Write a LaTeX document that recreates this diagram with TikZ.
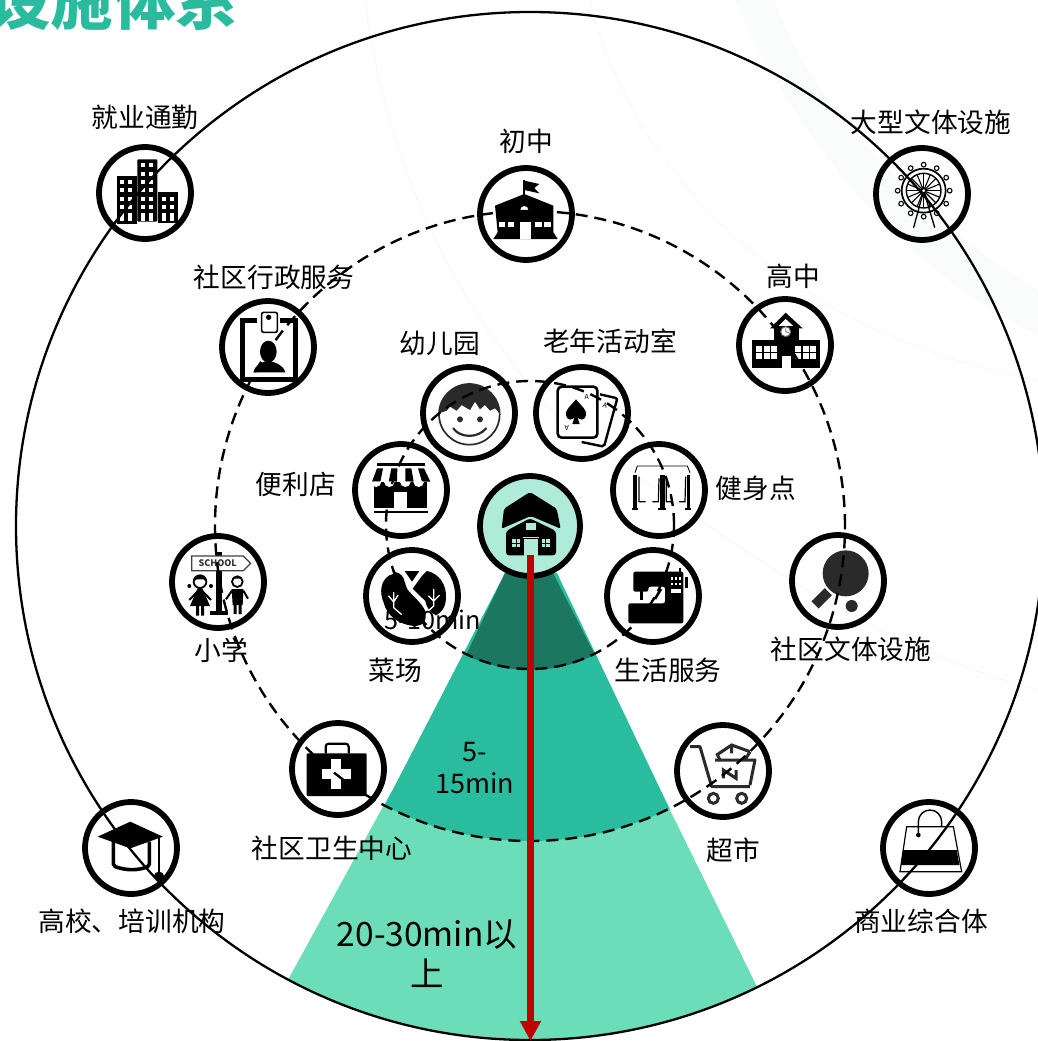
\documentclass[tikz,border=0pt]{standalone}
\usepackage{fontspec}
\setmainfont{Noto Sans CJK SC}
\usetikzlibrary{arrows.meta}
\definecolor{titleteal}{HTML}{2ABB9F}
\definecolor{seclight}{HTML}{6BDDB8}
\definecolor{secmid}{HTML}{2ABC9F}
\definecolor{secdark}{HTML}{1B775F}
\definecolor{homefill}{HTML}{AEEBD9}
\definecolor{arrowred}{HTML}{C00000}
\definecolor{paleband}{HTML}{F9FCFB}
\definecolor{paleline}{HTML}{F9FAFA}
\definecolor{icondark}{HTML}{2A2A2A}
\tikzset{
  ring/.style={circle,draw=black,line width=5.8pt,minimum size=92pt,inner sep=0pt},
  dashring/.style={draw=black,line width=2.4pt,dash pattern=on 12pt off 7pt},
  lab/.style={font=\fontsize{26.7}{32}\selectfont,text=black,inner sep=0pt},
  zoomat/.style 2 args={xshift=#1pt,yshift=-#2pt,x=0.33333pt,y=-0.33333pt},
}
\begin{document}
\begin{tikzpicture}[x=1pt,y=-1pt]
\useasboundingbox (0,0) rectangle (1038,1041);
\clip (0,0) rectangle (1038,1041);
% faint background
\fill[paleband] (735,0) .. controls (790,130) and (900,270) .. (1038,335) -- (1038,290) .. controls (950,240) and (810,110) .. (775,0) -- cycle;
\draw[paleline,line width=2pt] (365,0) .. controls (385,150) and (440,290) .. (560,420) .. controls (700,520) and (850,640) .. (1038,690);
\draw[paleline,line width=1.5pt] (590,0) .. controls (620,140) and (760,330) .. (1038,380);
% title
\node[anchor=base west,inner sep=0pt,text=titleteal,font=\bfseries\fontsize{62.5}{70}\selectfont] (title) at (-12,24.5) {设施体系};
% sectors
\begin{scope}
 \clip (530,526) circle[radius=514pt];
 \fill[seclight] (410,760) -- (385,803) -- (278,998) -- (530,1100) -- (767,1007) -- (670,810) -- (650,770) -- cycle;
\end{scope}
\begin{scope}
 \clip (530,526) circle[radius=315pt];
 \fill[secmid] (505,573) -- (359,855) -- (530,900) -- (694,860) -- (557,573) -- cycle;
\end{scope}
\begin{scope}
 \clip (530,526) circle[radius=144pt];
 \fill[secdark] (505,573) -- (440,710) -- (530,730) -- (618,700) -- (553,573) -- cycle;
\end{scope}
% circles
\node[ring] (job) at (145,193) {};
\node[ring] (culture) at (922,194) {};
\node[ring] (junior) at (526,214) {};
\node[ring] (admin) at (268,347) {};
\node[ring] (senior) at (785,345) {};
\node[ring] (kinder) at (469,413) {};
\node[ring] (elder) at (582,413) {};
\node[ring] (store) at (401,490) {};
\node[ring] (gym) at (659,490) {};
\node[ring,fill=homefill,minimum size=100pt] (home) at (530,526) {};
\node[ring] (veg) at (412,596) {};
\node[ring] (life) at (653,596) {};
\node[ring] (primary) at (218,582) {};
\node[ring] (sport) at (838,581) {};
\node[ring] (health) at (338,769) {};
\node[ring] (market) at (723,771) {};
\node[ring] (college) at (131,848) {};
\node[ring] (mall) at (929,848) {};
% job icon
\begin{scope}[zoomat={0}{0}]
 \fill (350,527) rectangle (410,672);
 \fill[rounded corners=1pt] (412,478) rectangle (472,665);
 \fill (475,577) rectangle (533,670);
 \foreach \px in {360,385}{\foreach \py in {540,565,590,615}{\fill[white] (\px,\py) rectangle ++(12,12);}
   \fill[white] (\px,640) rectangle ++(12,24);}
 \foreach \px in {422,447}{\foreach \py in {490,515,540,565,590,615}{\fill[white] (\px,\py) rectangle ++(12,12);}
   \fill[white] (\px,640) rectangle ++(12,24);}
 \foreach \px in {485,510}{\foreach \py in {590,615}{\fill[white] (\px,\py) rectangle ++(12,12);}
   \fill[white] (\px,640) rectangle ++(12,24);}
\end{scope}
% badge icon
\begin{scope}[zoomat={0}{0}]
 \draw[line width=5pt] (772,962) -- (727,962) -- (727,1138) -- (886,1138) -- (886,962) -- (840,962);
 \draw[line width=1.6pt,rounded corners=2pt] (785,937) rectangle (832,997);
 \fill (806,952) circle[radius=8];
 \fill (805,1055) ellipse[x radius=25,y radius=33];
 \fill (760,1117) .. controls (765,1095) and (785,1085) .. (805,1083) .. controls (825,1085) and (850,1095) .. (856,1117) -- cycle;
\end{scope}
% high school icon
\begin{scope}[zoomat={520}{0}]
 \fill (695,1020) rectangle (900,1103);
 \fill (762,985) rectangle (838,1103);
 \fill (750,985) -- (797,938) -- (848,985) -- cycle;
 \fill[white] (772,982) -- (797,957) -- (824,982) -- cycle;
 \fill (762,978) rectangle (838,1030);
 \fill[white] (797,995) circle[radius=15];
 \draw[line width=1pt,black!60] (797,995) circle[radius=15];
 \draw[line width=.8pt,black!60] (797,985) -- (797,995) -- (806,998);
 \foreach \bx in {708,825}{\fill[white] (\bx,1037) rectangle ++(64,41);
   \draw[line width=1.2pt] (\bx+21,1037) -- ++(0,41) (\bx+43,1037) -- ++(0,41) (\bx,1057) -- ++(64,0);}
 \fill[white] (787,1068) rectangle (812,1103);
\end{scope}
% ferris icon
\begin{scope}[zoomat={872}{144}]
 \draw[line width=1.3pt,line cap=round] (155,140) -- (125,250) (155,140) -- (188,250);
 \begin{scope}[shift={(155,140)}]
  \foreach \ang in {0,30,...,330}{\draw[line width=1.1pt,fill=white] (\ang:78) circle[radius=7];}
  \draw[line width=1.7pt] (0,0) circle[radius=66];
  \draw[line width=1.4pt] (0,0) circle[radius=52];
  \foreach \ang in {0,22.5,...,337.5}{\draw[line width=1.1pt] (0,0) -- (\ang:52);}
  \draw[line width=1pt,fill=white] (0,0) circle[radius=6];
 \end{scope}
\end{scope}
% junior school icon
\begin{scope}[zoomat={476}{164}]
 \draw[line width=2pt] (145,48) -- (145,95);
 \fill (145,50) -- (190,60) -- (175,72) -- (190,88) -- (145,78) -- cycle;
 \fill (57,125) -- (145,90) -- (232,125) -- (232,205) -- (245,225) -- (52,225) -- (65,205) -- cycle;
 \fill[white] (133,225) -- (133,175) -- (165,175) -- (165,225) -- cycle;
 \fill[white] (133,138) arc[start angle=180,end angle=360,radius=12] -- cycle;
 \foreach \wx in {68,95,178,205}{\fill[white] (\wx,175) rectangle ++(20,15);}
\end{scope}
% store icon
\begin{scope}[zoomat={352}{440}]
 \fill (75,70) rectangle (220,77);
 \fill (65,125) rectangle (225,205);
 \foreach \sx/\sy in {75/60,118/110,160/160,198/210}{\fill (\sx,85) -- (\sx+18,85) -- (\sy+25,125) -- (\sy,125) -- cycle;}
 \foreach \cx in {72,112,160,200}{\fill[white] (\cx-16,125) arc[start angle=180,end angle=0,radius=16] -- cycle;}
 \fill[white] (125,205) -- (125,155) -- (165,155) -- (165,205) -- cycle;
 \fill (65,212) rectangle (228,220);
\end{scope}
% vegetable icon
\begin{scope}[zoomat={362}{546}]
 \fill (90,58) -- (100,78) .. controls (115,82) and (125,90) .. (128,108) -- (135,128) .. controls (150,150) and (175,165) .. (190,195) .. controls (195,225) and (185,240) .. (155,240) .. controls (110,235) and (75,210) .. (65,170) .. controls (52,140) and (55,105) .. (82,88) -- (100,82) -- cycle;
 \fill (195,75) .. controls (230,82) and (255,115) .. (252,158) .. controls (250,185) and (238,200) .. (222,208) .. controls (205,200) and (195,188) .. (190,165) -- (152,128) .. controls (165,112) and (175,92) .. (195,75) -- cycle;
 \fill (128,75) -- (172,75) -- (150,107) -- cycle;
 \draw[white,line width=1.3pt,line cap=round] (95,140) -- (95,185) -- (118,205) (95,168) -- (80,150) (95,168) -- (108,148);
 \draw[white,line width=1.3pt,line cap=round] (215,130) -- (215,180) -- (195,198) (215,165) -- (200,150) (215,165) -- (232,148);
\end{scope}
% gym icon
\begin{scope}[zoomat={609}{440}]
 \draw[line width=.9pt] (78,98) -- (85,78) -- (235,78) -- (243,98);
 \fill (72,105) rectangle (84,205); \fill (68,203) rectangle (88,210);
 \fill (152,105) rectangle (167,205); \fill (148,203) rectangle (172,210);
 \fill (233,105) rectangle (243,205); \fill (229,203) rectangle (247,210);
 \draw[line width=1.2pt] (90,110) -- (90,185) -- (110,185) (150,115) -- (148,185) -- (130,185) (172,115) -- (172,185) -- (190,185) (230,110) -- (228,185) -- (210,185);
\end{scope}
% home icon
\begin{scope}[zoomat={480}{476}]
 \fill[rounded corners=2pt] (65,158) -- (72,98) -- (150,48) -- (230,98) -- (242,158) -- (152,120) -- cycle;
 \fill[rounded corners=3pt] (78,165) -- (150,127) -- (228,165) -- (228,238) -- (78,238) -- cycle;
 \fill[homefill] (137,140) rectangle (167,163);
 \fill[homefill] (133,190) -- (133,240) -- (175,240) -- (175,190) -- cycle;
 \draw[homefill,line width=1pt] (130,184) -- (178,184);
 \foreach \wx in {97,186}{\fill[homefill] (\wx,190) rectangle ++(23,23);
   \draw[line width=.7pt] (\wx+11,190) -- ++(0,23) (\wx,201) -- ++(23,0);}
\end{scope}
% face and cards and sewing icons
\begin{scope}[zoomat={340}{370}]
 \draw[line width=1.7pt,icondark] (388,133) circle[radius=91];
 \fill[icondark] (297,130) arc[start angle=182,end angle=358,radius=91] -- (465,115) -- (450,122) -- (435,105) -- (420,118) -- (405,95) -- (390,120) -- (365,105) -- (350,122) -- (330,110) -- (320,122) -- cycle;
 \fill[icondark] (360,148) circle[radius=9] (420,148) circle[radius=9];
 \draw[line width=2.2pt,icondark,line cap=round] (340,175) .. controls (360,205) and (415,205) .. (438,175);
 % cards
 \draw[line width=2.4pt,rounded corners=2pt] (780,73) -- (832,85) -- (792,230) -- (725,216);
 \draw[line width=2.6pt,fill=white,rounded corners=4pt] (653,50) rectangle (772,203);
 \fill (708,88) .. controls (690,110) and (675,120) .. (678,135) .. controls (682,155) and (700,150) .. (704,140) -- (697,162) -- (719,162) -- (712,140) .. controls (716,150) and (734,155) .. (738,135) .. controls (741,120) and (726,110) .. (708,88) -- cycle;
 \node[inner sep=0pt,font=\fontsize{7}{8}\selectfont] (cardA) at (740,80) {A};
 \node[inner sep=0pt,font=\fontsize{7}{8}\selectfont,rotate=180] (cardB) at (680,175) {A};
 \node[inner sep=0pt,font=\fontsize{7}{8}\selectfont,rotate=-15] (cardC) at (795,108) {A};
 % sewing machine
 \fill[rounded corners=2pt] (880,605) -- (1030,605) -- (1030,760) -- (865,760) -- (865,700) -- (975,700) -- (975,650) -- (925,650) -- (925,665) -- (880,665) -- cycle;
 \fill (900,660) rectangle (910,690);
 \fill (1034,622) rectangle (1045,655);
 \fill (1018,595) rectangle (1023,605);
 \foreach \px in {995,1008,1020}{\fill[white] (\px-3,622) rectangle ++(6,7);\fill[white] (\px-3,638) rectangle ++(6,7);}
 \fill[white] (993,658) rectangle (1022,670);
 \draw[line width=2.6pt] (945,687) -- (963,657);
\end{scope}
% primary school and clinic icons
\begin{scope}[zoomat={150}{520}]
 \fill (197,95) rectangle (217,280);
 \fill (180,272) rectangle (235,285);
 \draw[line width=1.3pt,fill=white,draw=black!75] (125,108) -- (280,108) -- (302,130) -- (280,152) -- (125,152) -- cycle;
 \node[inner sep=0pt,font=\bfseries\fontsize{9}{10}\selectfont,text=black!80] (schooltext) at (203,130) {SCHOOL};
 % girl
 \fill (118,198) circle[radius=6] (183,198) circle[radius=6];
 \draw[line width=1.8pt,fill=white] (150,185) circle[radius=19];
 \fill (131,185) arc[start angle=180,end angle=360,radius=19] -- (160,178) -- (140,178) -- cycle;
 \fill (143,205) -- (157,205) -- (180,258) -- (120,258) -- cycle;
 \draw[line width=2pt] (145,212) -- (118,240) (156,212) -- (183,240);
 \fill (138,258) rectangle (147,287) (153,258) rectangle (162,287);
 % boy
 \draw[line width=1.8pt,fill=white] (262,185) circle[radius=16];
 \fill (246,183) arc[start angle=180,end angle=360,radius=16] -- (270,176) -- (254,176) -- cycle;
 \fill (245,207) -- (280,207) -- (278,255) -- (248,255) -- cycle;
 \draw[line width=2pt] (246,212) -- (228,238) (280,212) -- (294,236);
 \fill (251,255) rectangle (260,282) (266,255) rectangle (275,282);
 % clinic
 \fill[rounded corners=1pt] (470,700) rectangle (650,828);
 \draw[line width=2.2pt,rounded corners=3pt] (527,700) -- (527,671) -- (596,671) -- (596,700);
 \fill[white] (544,716) rectangle (572,806);
 \fill[white] (515,748) rectangle (602,776);
\end{scope}
% sport, cart, bag icons
\begin{scope}[zoomat={640}{520}]
 \fill[icondark] (617,160) circle[radius=69];
 \draw[line width=10pt,icondark] (525,255) -- (565,215);
 \fill[icondark] (635,258) circle[radius=18];
 % cart
 \draw[line width=3pt,icondark,line join=round] (150,680) -- (180,680) -- (215,800) -- (330,800);
 \draw[line width=3pt,icondark,line join=round] (225,720) -- (345,720) -- (330,795);
 \draw[line width=3pt,icondark] (230,705) -- (275,675) -- (330,695) (275,675) -- (275,700) (230,700) -- (240,720) (330,695) -- (315,720);
 \draw[line width=3pt,icondark] (250,775) -- (250,750) -- (288,775) -- (288,750);
 \draw[line width=3pt,icondark] (220,835) circle[radius=15] (305,835) circle[radius=15];
 % bag
 \draw[line width=1.2pt] (800,920) -- (940,920) -- (965,1055) -- (780,1055) -- cycle;
 \fill (790,990) -- (950,990) -- (958,1035) -- (783,1035) -- cycle;
 \draw[line width=1.4pt] (835,945) -- (835,905) arc[start angle=180,end angle=360,radius=35] -- (905,920);
 \fill (835,945) circle[radius=7];
\end{scope}
% graduation cap icon
\begin{scope}[xshift=0pt,yshift=-780pt,x=0.3831pt,y=-0.33333pt]
 \draw[line width=3.6pt,fill=white,rounded corners=2pt] (296,185) -- (296,258) .. controls (330,272) and (360,272) .. (390,258) -- (390,185);
 \fill (255,170) -- (340,125) -- (425,170) -- (340,205) -- cycle;
 \draw[line width=2pt] (415,172) -- (415,280);
 \fill (415,288) ellipse[x radius=13,y radius=13];
\end{scope}
% rings
\draw[line width=2.3pt] (530,526) circle[radius=514pt];
\draw[dashring] (530,526) circle[radius=315pt];
\draw[dashring] (530,525) circle[radius=144pt];
% labels
\node[lab] (tjob) at (145,117.5) {就业通勤};
\node[lab] (tjunior) at (526,141.5) {初中};
\node[lab] (tculture) at (931,122.5) {大型文体设施};
\node[lab] (tadmin) at (274,277.5) {社区行政服务};
\node[lab] (tsenior) at (793,276.5) {高中};
\node[lab] (tkinder) at (440,343.5) {幼儿园};
\node[lab] (telder) at (610,341.5) {老年活动室};
\node[lab] (tstore) at (296,484.5) {便利店};
\node[lab] (tgym) at (756,488.5) {健身点};
\node[lab] (tprimary) at (221,650.5) {小学};
\node[lab] (tveg) at (395,670.5) {菜场};
\node[lab] (tlife) at (668,670.5) {生活服务};
\node[lab] (tsport) at (851,649.5) {社区文体设施};
\node[lab] (thealth) at (332,848.5) {社区卫生中心};
\node[lab] (tmarket) at (733,850.5) {超市};
\node[lab] (tcollege) at (132,921.5) {高校、培训机构};
\node[lab] (tmall) at (921,921.5) {商业综合体};
\node[lab,font=\fontsize{25.2}{30}\selectfont] (tten) at (433,620) {5-10min};
\node[lab,align=center,font=\fontsize{27}{32}\selectfont] (tfifteen) at (475,768) {5-\\15min};
\node[lab,align=center,font=\fontsize{33.5}{40}\selectfont] (tthirty) at (427,954) {20-30min以\\上};
% red arrow
\coordinate (arrowstart) at (530.5,555);
\coordinate (arrowend) at (530.5,1041);
\draw[arrowred,line width=6.4pt,-{Triangle[length=20pt,width=20pt]}] (arrowstart) -- (arrowend);
\end{tikzpicture}
\end{document}
